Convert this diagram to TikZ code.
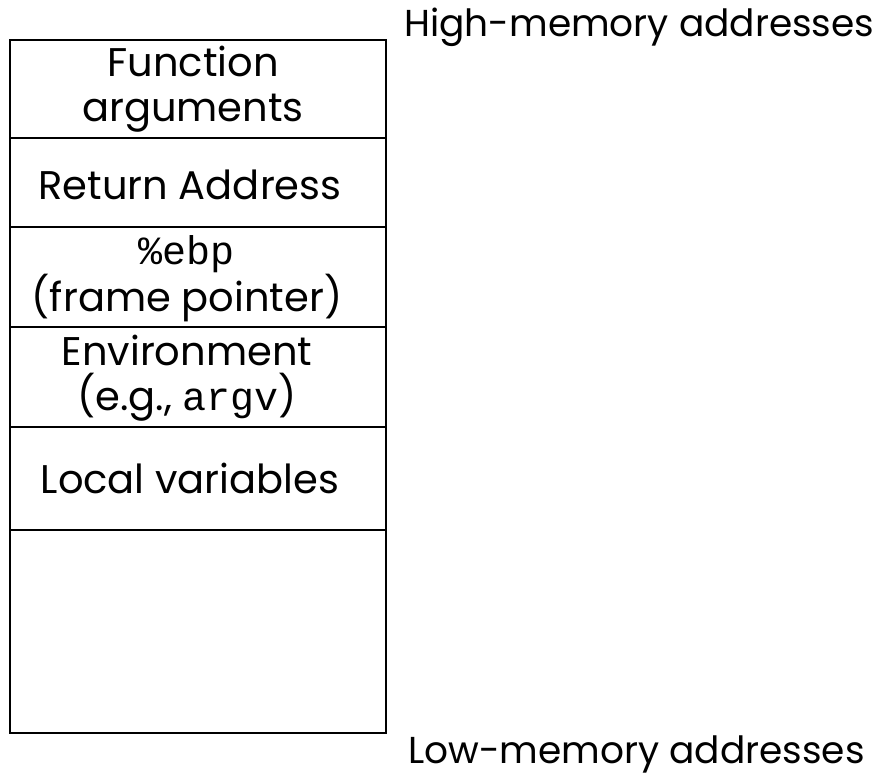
\documentclass[tikz,border=0pt]{standalone}
\usepackage{fontspec}
\setmainfont{Poppins}
\newfontfamily\codefont{Liberation Mono}
\begin{document}
\begin{tikzpicture}[x=1pt,y=-1pt,
  frame/.style={draw=black, line width=2.4pt},
  cell/.style={align=center, inner sep=0pt, font=\fontsize{40}{45}\selectfont},
  side/.style={anchor=base west, inner sep=0pt, font=\fontsize{37.5}{44}\selectfont}]
\useasboundingbox (0,0) rectangle (886,775);
% stack frame outline and slot dividers
\draw[frame] (10,40) rectangle (386,733);
\foreach \yy in {138,227,327,427,530}
  \draw[frame] (10,\yy) -- (386,\yy);
% slot contents
\node[cell] (args) at (193,89) {Function\\arguments};
\node[cell] (ret)  at (190,185) {Return Address};
\node[cell] (ebp)  at (187,279) {{\codefont\%ebp}\\(frame pointer)};
\node[cell] (env)  at (187,378) {Environment\\(e.g., {\codefont argv})};
\node[cell] (loc)  at (190,478) {Local variables};
% address direction labels
\node[side] (high) at (404,37) {High-memory addresses};
\node[side] (low)  at (408,763) {Low-memory addresses};
\end{tikzpicture}
\end{document}
